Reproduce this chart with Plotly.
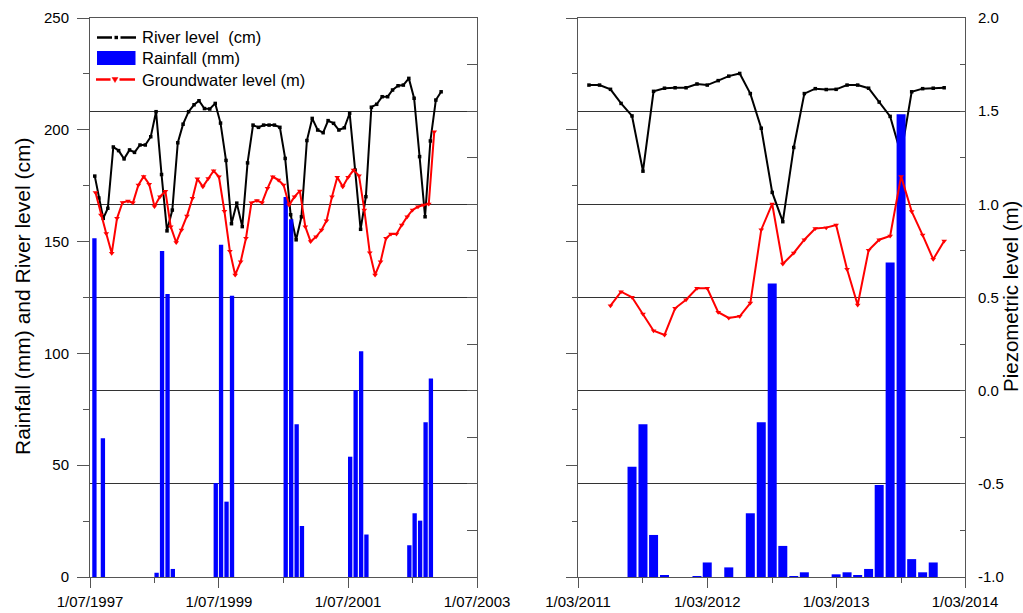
import pandas as pd
import plotly.graph_objects as go

# ---------------- data: 1997-2003 ----------------
river_left_dates = ["1997-07-28", "1997-08-20", "1997-09-14", "1997-10-10"] + [
    d.strftime("%Y-%m-%d") for d in pd.date_range("1997-11-01", "2002-12-01", freq="MS") + pd.Timedelta(days=9)
]
river_left_cm = [
    179.3, 169.5, 160.4, 164.9,
    192.3, 190.7,
    187.0, 191.0, 189.9, 193.2, 193.2, 196.9, 208.1, 180.0, 154.8, 164.1, 194.2, 202.5,
    208.1, 211.2, 213.0, 209.5, 209.3, 211.8, 203.0, 186.3, 158.0, 167.2, 156.7, 185.2,
    202.1, 201.1, 202.1, 202.1, 202.1, 201.1, 187.2, 162.0, 150.8, 161.1, 195.2, 205.1,
    199.9, 198.7, 204.1, 202.9, 199.9, 200.9, 207.4, 182.0, 155.5, 170.1, 210.1, 211.4,
    214.8, 214.8, 217.8, 219.7, 220.0, 223.0, 214.1, 188.0, 161.1, 195.0, 213.3, 217.0,
]

gw_left_dates = [d.strftime("%Y-%m-%d") for d in pd.date_range("1997-08-01", "2002-11-01", freq="MS")]
gw_left_m = [
    1.063, 0.943, 0.843, 0.737, 0.925, 1.010, 1.018, 1.008, 1.104, 1.150, 1.108, 0.989,
    1.041, 1.070, 0.880, 0.795, 0.862, 0.938, 1.032, 1.137, 1.095, 1.138, 1.180, 1.148,
    0.963, 0.748, 0.621, 0.692, 0.818, 1.009, 1.020, 1.009, 1.086, 1.148, 1.131, 1.104,
    0.996, 1.041, 1.072, 0.880, 0.800, 0.826, 0.862, 0.912, 1.041, 1.145, 1.095, 1.145,
    1.184, 1.154, 0.970, 0.740, 0.621, 0.692, 0.818, 0.841, 0.841, 0.889, 0.934, 0.970,
    0.987, 0.996, 1.002, 1.390,
]

rain_left_dates = [
    "1997-07-26", "1997-09-12",
    "1998-07-13", "1998-08-13", "1998-09-13", "1998-10-13",
    "1999-06-13", "1999-07-13", "1999-08-13", "1999-09-13",
    "2000-07-13", "2000-08-13", "2000-09-13", "2000-10-13",
    "2001-07-13", "2001-08-13", "2001-09-13", "2001-10-13",
    "2002-06-13", "2002-07-13", "2002-08-13", "2002-09-13", "2002-10-13",
]
rain_left_mm = [
    151.5, 62.0,
    1.9, 145.8, 126.6, 3.6,
    42.0, 148.6, 33.7, 125.8,
    170.0, 160.0, 68.3, 22.8,
    53.8, 83.5, 101.0, 19.0,
    14.2, 28.5, 25.2, 69.2, 88.8,
]

# ---------------- data: 2011-2014 ----------------
river_right_dates = [d.strftime("%Y-%m-%d") for d in pd.date_range("2011-04-01", "2014-01-01", freq="MS")]
river_right_cm = [
    220.0, 220.0, 218.1, 211.8, 206.2, 181.5, 217.2, 218.6, 218.8,
    218.8, 220.5, 220.0, 222.0, 224.0, 225.2, 216.2, 200.7, 172.0, 158.9, 192.1, 216.2,
    218.4, 218.0, 218.1, 220.0, 220.0, 218.6, 212.4, 206.0, 189.0, 217.0, 218.4, 218.6,
    218.8,
]

gw_right_dates = [d.strftime("%Y-%m-%d") for d in pd.date_range("2011-06-01", "2014-01-01", freq="MS")]
gw_right_m = [
    0.456, 0.531, 0.501, 0.411, 0.322, 0.299, 0.442,
    0.488, 0.549, 0.549, 0.421, 0.390, 0.399, 0.470, 0.864, 1.002, 0.680, 0.739, 0.810,
    0.870, 0.875, 0.889, 0.651, 0.460, 0.753, 0.810, 0.830, 1.150, 0.962, 0.835, 0.705,
    0.803,
]

rain_right_dates = [
    "2011-08-01", "2011-09-01", "2011-10-01", "2011-11-01",
    "2012-02-01", "2012-03-01", "2012-05-01", "2012-07-01", "2012-08-01", "2012-09-01",
    "2012-10-01", "2012-11-01", "2012-12-01",
    "2013-03-01", "2013-04-01", "2013-05-01", "2013-06-01", "2013-07-01", "2013-08-01",
    "2013-09-01", "2013-10-01", "2013-11-01", "2013-12-01",
]
rain_right_mm = [
    49.3, 68.3, 18.8, 0.9,
    0.4, 6.5, 4.3, 28.5, 69.2, 131.3,
    13.9, 0.4, 2.1,
    1.2, 2.1, 0.7, 3.6, 41.1, 140.6,
    206.9, 8.0, 2.1, 6.5,
]

# ---------------- axis ticks ----------------
left_x_ticks = ["1997-07-01", "1999-07-01", "2001-07-01", "2003-07-01"]
left_x_labels = ["1/07/1997", "1/07/1999", "1/07/2001", "1/07/2003"]
right_x_ticks = ["2011-03-01", "2012-03-01", "2013-03-01", "2014-03-01"]
right_x_labels = ["1/03/2011", "1/03/2012", "1/03/2013", "1/03/2014"]
level_ticks = [0, 50, 100, 150, 200, 250]
level_labels = ["0", "50", "100", "150", "200", "250"]
piezo_ticks = [-1.0, -0.5, 0.0, 0.5, 1.0, 1.5, 2.0]
piezo_labels = ["-1.0", "-0.5", "0.0", "0.5", "1.0", "1.5", "2.0"]

# ---------------- styling ----------------
FONT = "Liberation Sans, Arial, sans-serif"
AXC = "#555555"
GRIDC = "#333333"
BLUE = "#0000FF"
RED = "#FF0000"
DAY_MS = 86400000

W, H = 1023, 613
PL, PR, PT, PB = 90, 965, 18, 577


def px(xp):
    return (xp - PL) / (PR - PL)


def py(yp):
    return (PB - yp) / (PB - PT)


fig = go.Figure()

# left panel: river (base), rainfall (overlay), groundwater (top overlay)
fig.add_trace(go.Scatter(x=river_left_dates, y=river_left_cm, xaxis="x", yaxis="y",
                         mode="lines+markers", line=dict(color="black", width=2),
                         marker=dict(symbol="square", size=3.5, color="black"),
                         name="River level  (cm)"))
fig.add_trace(go.Bar(x=rain_left_dates, y=rain_left_mm, xaxis="x", yaxis="y2",
                     width=24.5 * DAY_MS, marker=dict(color=BLUE, line=dict(width=0)),
                     name="Rainfall (mm)"))
fig.add_trace(go.Scatter(x=gw_left_dates, y=gw_left_m, xaxis="x", yaxis="y3",
                         mode="lines+markers", line=dict(color=RED, width=2),
                         marker=dict(symbol="triangle-down", size=5, color=RED),
                         name="Groundwater level (m)"))

# right panel
fig.add_trace(go.Scatter(x=river_right_dates, y=river_right_cm, xaxis="x2", yaxis="y4",
                         mode="lines+markers", line=dict(color="black", width=2),
                         marker=dict(symbol="square", size=3.5, color="black"),
                         showlegend=False))
fig.add_trace(go.Bar(x=rain_right_dates, y=rain_right_mm, xaxis="x2", yaxis="y5",
                     width=25.5 * DAY_MS, marker=dict(color=BLUE, line=dict(width=0)),
                     showlegend=False))
fig.add_trace(go.Scatter(x=gw_right_dates, y=gw_right_m, xaxis="x2", yaxis="y6",
                         mode="lines+markers", line=dict(color=RED, width=2),
                         marker=dict(symbol="triangle-down", size=5, color=RED),
                         showlegend=False))

xcommon = dict(type="date", tickmode="array", ticks="outside", ticklen=10, tickwidth=1,
               tickcolor=AXC, showline=True, linecolor=AXC, linewidth=1, mirror=True,
               showgrid=False, zeroline=False, tickfont=dict(size=15, color="black"),
               ticklabelstandoff=1)
left_level = dict(range=[0, 250], tickmode="array", tickvals=level_ticks, ticks="outside",
                  tickcolor=AXC, tickwidth=1, showline=True, linecolor=AXC, linewidth=1,
                  showgrid=False, zeroline=False)
piezo = dict(range=[-1, 2], tickmode="array", tickvals=piezo_ticks, side="right",
             ticks="inside", tickcolor=AXC, tickwidth=1, showline=True, linecolor=AXC,
             linewidth=1, showgrid=True, gridcolor=GRIDC, gridwidth=1, zeroline=False)

fig.update_layout(
    width=W, height=H,
    margin=dict(l=PL, r=W - PR, t=PT, b=H - PB, pad=0, autoexpand=False),
    plot_bgcolor="white", paper_bgcolor="white",
    font=dict(family=FONT, size=15, color="black"),
    showlegend=False,
    barmode="overlay",
    xaxis=dict(xcommon, domain=[0, px(477)], anchor="y",
               range=["1997-07-01", "2003-07-01"], tickvals=left_x_ticks, ticktext=left_x_labels,
               minor=dict(ticks="outside", ticklen=5, dtick="M12", tick0="1997-07-01",
                          tickcolor=AXC)),
    yaxis=dict(left_level, domain=[0, 1], anchor="x", ticklen=12, ticktext=level_labels,
               showticklabels=True, tickfont=dict(size=15, color="black"), ticklabelstandoff=5,
               minor=dict(ticks="outside", ticklen=6, dtick=25, tick0=0, tickcolor=AXC)),
    yaxis2=dict(overlaying="y", anchor="x", range=[0, 250], visible=False),
    yaxis3=dict(piezo, overlaying="y", anchor="x", ticklen=10, showticklabels=False,
                minor=dict(ticks="inside", ticklen=10, dtick=0.25, tick0=-1, tickcolor=AXC)),
    xaxis2=dict(xcommon, domain=[px(578), 1], anchor="y4",
                range=["2011-03-01", "2014-03-01"], tickvals=right_x_ticks, ticktext=right_x_labels,
                minor=dict(ticks="outside", ticklen=5, dtick="M6", tick0="2011-03-01",
                           tickcolor=AXC)),
    yaxis4=dict(left_level, domain=[0, 1], anchor="x2", ticklen=11, showticklabels=False,
                minor=dict(ticks="outside", ticklen=5, dtick=25, tick0=0, tickcolor=AXC)),
    yaxis5=dict(overlaying="y4", anchor="x2", range=[0, 250], visible=False),
    yaxis6=dict(piezo, overlaying="y4", anchor="x2", ticklen=5, ticktext=piezo_labels,
                showticklabels=True, tickfont=dict(size=15, color="black"), ticklabelstandoff=9,
                minor=dict(ticks="inside", ticklen=5, dtick=0.25, tick0=-1, tickcolor=AXC)),
)

# axis titles
fig.add_annotation(text="Rainfall (mm) and River level (cm)", xref="paper", yref="paper",
                   x=px(22), y=py(297), textangle=-90, showarrow=False,
                   xanchor="center", yanchor="middle", font=dict(size=21, color="black"))
fig.add_annotation(text="Piezometric level (m)", xref="paper", yref="paper",
                   x=px(1010), y=py(297), textangle=-90, showarrow=False,
                   xanchor="center", yanchor="middle", font=dict(size=20.5, color="black"))

# legend box (drawn) in the upper-left of the first panel
legend_items = ["River level\u00a0 (cm)", "Rainfall (mm)", "Groundwater level (m)"]
legend_rows = [37.5, 58.0, 79.5]
shapes = []
for x0, x1 in [(97, 112), (120.5, 136)]:
    shapes.append(dict(type="line", xref="paper", yref="paper", x0=px(x0), x1=px(x1),
                       y0=py(legend_rows[0]), y1=py(legend_rows[0]),
                       line=dict(color="black", width=2.5)))
shapes.append(dict(type="rect", xref="paper", yref="paper", x0=px(114.5), x1=px(118),
                   y0=py(39.2), y1=py(35.8), fillcolor="black", line=dict(width=0)))
shapes.append(dict(type="rect", xref="paper", yref="paper", x0=px(97), x1=px(135.5),
                   y0=py(65), y1=py(51), fillcolor=BLUE, line=dict(width=0)))
for x0, x1 in [(96, 110.5), (119.5, 135)]:
    shapes.append(dict(type="line", xref="paper", yref="paper", x0=px(x0), x1=px(x1),
                       y0=py(legend_rows[2]), y1=py(legend_rows[2]),
                       line=dict(color=RED, width=2.5)))
tri = "M {:.5f} {:.5f} L {:.5f} {:.5f} L {:.5f} {:.5f} Z".format(
    px(112), py(77.5), px(118), py(77.5), px(115), py(82.5))
shapes.append(dict(type="path", xref="paper", yref="paper", path=tri,
                   fillcolor=RED, line=dict(color=RED, width=0.5)))
fig.update_layout(shapes=shapes)

for label, row in zip(legend_items, legend_rows):
    fig.add_annotation(text=label, xref="paper", yref="paper", x=px(140), y=py(row),
                       xanchor="left", yanchor="middle", showarrow=False,
                       font=dict(size=16.5, color="black"))

fig.write_html("out.html")
